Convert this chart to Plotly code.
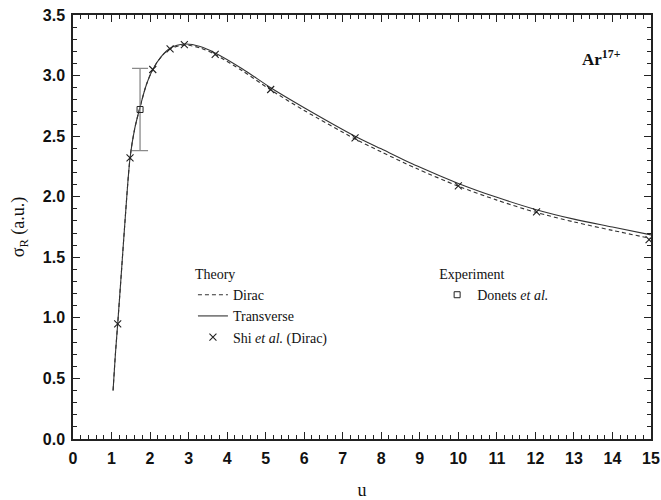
import plotly.graph_objects as go

# --- Data ---
u_transverse = [1.04, 1.1, 1.16, 1.25, 1.35, 1.48, 1.6, 1.74, 1.9, 2.07, 2.3, 2.52, 2.9, 3.3, 3.7,
                4.4, 5.13, 6.0, 7.32, 8.0, 8.92, 10.0, 11.0, 12.0, 13.0, 14.0, 15.0]
sigma_transverse = [0.40, 0.70, 0.95, 1.35, 1.80, 2.32, 2.56, 2.74, 2.92, 3.05, 3.16, 3.225, 3.26, 3.24, 3.185,
                    3.055, 2.90, 2.735, 2.50, 2.395, 2.255, 2.11, 1.995, 1.895, 1.815, 1.75, 1.685]

u_dirac = u_transverse
sigma_dirac = [0.40, 0.70, 0.95, 1.35, 1.80, 2.32, 2.56, 2.74, 2.92, 3.05, 3.16, 3.22, 3.252, 3.228, 3.172,
               3.038, 2.882, 2.712, 2.477, 2.37, 2.232, 2.087, 1.972, 1.872, 1.792, 1.722, 1.655]

u_shi = [1.16, 1.48, 2.07, 2.52, 2.89, 3.69, 5.13, 7.32, 10.0, 12.03, 14.95]
sigma_shi = [0.95, 2.32, 3.05, 3.22, 3.255, 3.175, 2.885, 2.485, 2.09, 1.875, 1.645]

u_donets = [1.74]
sigma_donets = [2.72]
err_plus = [0.34]
err_minus = [0.34]

x_ticks = list(range(0, 16))
y_ticks = [0.0, 0.5, 1.0, 1.5, 2.0, 2.5, 3.0, 3.5]

LINE = "#333333"
SERIF = "Liberation Serif"
SANS = "Liberation Sans"

fig = go.Figure()

fig.add_trace(go.Scatter(
    x=u_dirac, y=sigma_dirac, mode="lines", name="Dirac",
    line=dict(color=LINE, width=1.1, dash="4px,3px", shape="spline", smoothing=0.8),
    legend="legend",
))
fig.add_trace(go.Scatter(
    x=u_transverse, y=sigma_transverse, mode="lines", name="Transverse",
    line=dict(color=LINE, width=1.1, shape="spline", smoothing=0.8),
    legend="legend",
))
fig.add_trace(go.Scatter(
    x=u_shi, y=sigma_shi, mode="markers", name="Shi <i>et al.</i> (Dirac)",
    marker=dict(symbol="x-thin-open", size=7, color="#222222", line=dict(width=1.1, color="#222222")),
    legend="legend",
))
fig.add_trace(go.Scatter(
    x=u_donets, y=sigma_donets, mode="markers", name="Donets <i>et al.</i>",
    marker=dict(symbol="square-open", size=6, color="#222222", line=dict(width=1)),
    error_y=dict(type="data", array=err_plus, arrayminus=err_minus, color="#8a8a8a",
                 thickness=1.3, width=8),
    legend="legend2",
))

axis_common = dict(
    showline=True, linecolor="#222222", linewidth=1.5, mirror="allticks",
    ticks="inside", ticklen=7, tickwidth=1.3, tickcolor="#222222",
    showgrid=False, zeroline=False, automargin=False,
    tickfont=dict(family=SANS, size=16, color="#111111", weight="bold"),
)

fig.update_xaxes(
    range=[0, 15], tickvals=x_ticks, ticktext=[str(t) for t in x_ticks],
    minor=dict(ticks="inside", ticklen=4, tickwidth=1.1, tickcolor="#222222", dtick=0.2, showgrid=False),
    title=dict(text="u", font=dict(family=SERIF, size=18, color="#111111"), standoff=20),
    ticklabelstandoff=4,
    **axis_common,
)
fig.update_yaxes(
    range=[0, 3.5], tickvals=y_ticks, ticktext=[f"{t:.1f}" for t in y_ticks],
    minor=dict(ticks="inside", ticklen=4, tickwidth=1.1, tickcolor="#222222", dtick=0.1, showgrid=False),
    title=dict(text="σ<sub>R</sub> (a.u.)", font=dict(family=SERIF, size=18, color="#111111"), standoff=13),
    ticklabelstandoff=3,
    **axis_common,
)

legend_common = dict(
    bgcolor="rgba(0,0,0,0)", borderwidth=0, xanchor="left", yanchor="top",
    font=dict(family=SERIF, size=14, color="#111111"), itemwidth=30, tracegroupgap=0,
)

fig.update_layout(
    width=661, height=500,
    margin=dict(l=73, r=10, t=15, b=60.5, autoexpand=False),
    plot_bgcolor="white", paper_bgcolor="white",
    showlegend=True,
    legend=dict(x=0.2075, y=0.42, title=dict(text="Theory", side="top",
                font=dict(family=SERIF, size=14, color="#111111")), **legend_common),
    legend2=dict(x=0.630, y=0.42, title=dict(text="Experiment", side="top",
                 font=dict(family=SERIF, size=14, color="#111111")), **legend_common),
    annotations=[dict(
        x=0.877, y=0.898, xref="paper", yref="paper", xanchor="left", yanchor="middle",
        showarrow=False,
        text="<b>Ar<sup>17+</sup></b>", font=dict(family=SERIF, size=17, color="#111111"),
    )],
)

fig.write_html("out.html", config={"displayModeBar": False},
               post_script="document.body.style.margin='0';")
